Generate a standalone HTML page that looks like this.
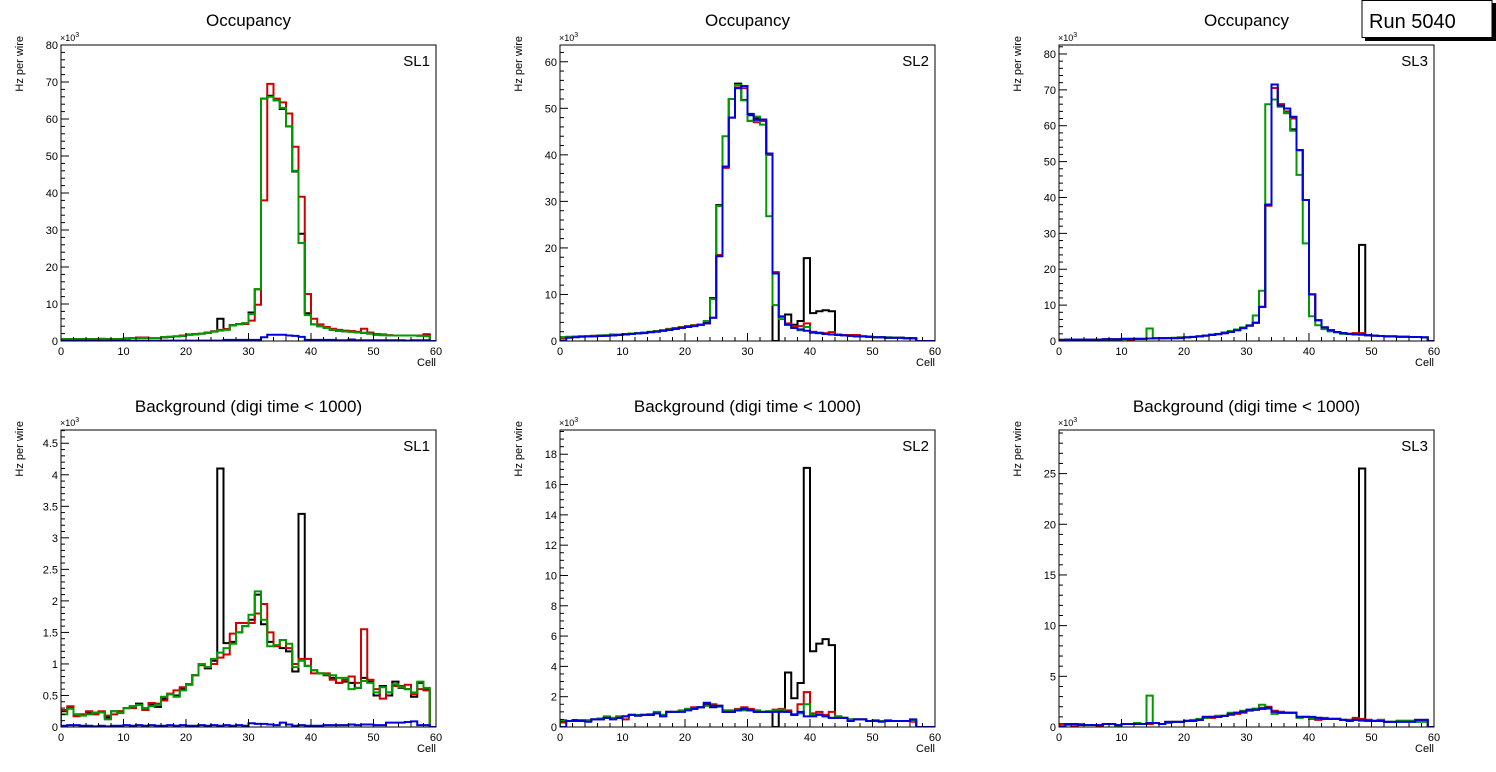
<!DOCTYPE html>
<html><head><meta charset="utf-8"><style>
body{margin:0;background:#fff;}
svg{display:block;font-family:"Liberation Sans",sans-serif;}
</style></head><body>
<svg id="c" width="1496" height="772" viewBox="0 0 1496 772">
<g>
<rect x="1365" y="3" width="131" height="38" fill="#000"/>
<rect x="1362" y="0.5" width="130" height="37" fill="#fff" stroke="#000" stroke-width="1"/>
<text x="1369" y="28" font-size="20">Run 5040</text>
</g>
</svg>
<script>
// Cell bins 0..59; values in units of 10^3 Hz per wire
const cells = Array.from({length:60},(_,i)=>i);
const xTicks = [0,10,20,30,40,50,60];

const occSL1_black=[0.5,0.5,0.5,0.5,0.5,0.5,0.5,0.5,0.5,0.5,0.7,0.8,0.9,0.9,0.8,0.8,1.0,1.1,1.2,1.4,1.7,1.8,2.0,2.2,2.6,6.0,3.2,4.3,4.6,4.8,7.7,14,65.5,66.3,65,62.7,58,45.8,29,7.5,4.5,4.0,3.5,3.0,2.7,2.6,2.5,2.3,2.2,2.0,1.7,1.6,1.5,1.5,1.5,1.5,1.5,1.5,1.8,0];
const occSL1_red=[0.5,0.5,0.5,0.5,0.5,0.5,0.6,0.5,0.5,0.5,0.7,0.8,0.9,0.9,0.8,0.8,1.0,1.1,1.3,1.5,1.8,1.9,2.0,2.3,2.6,3.0,3.2,4.2,4.6,4.6,5.5,9.8,38,69.5,65.5,64.5,61.5,52.5,39,12.7,6,4.5,3.8,3.3,3.0,2.8,2.7,2.5,3.3,2.3,1.9,1.8,1.6,1.5,1.5,1.5,1.5,1.5,1.6,0];
const occSL1_green=[0.5,0.5,0.5,0.5,0.5,0.5,0.5,0.5,0.5,0.5,0.7,0.8,0.8,0.8,0.8,0.8,1.0,1.1,1.2,1.4,1.7,1.8,2.0,2.2,2.5,2.8,3.0,4.2,4.5,4.8,7.3,14,65.5,66,65,63,58,46,26.5,7,4.5,4.0,3.5,3.0,2.7,2.6,2.5,2.3,2.2,2.0,1.7,1.6,1.5,1.5,1.5,1.5,1.5,1.4,1.3,0];
const occSL1_blue=[0.1,0.1,0.1,0.1,0.1,0.1,0.1,0.1,0.1,0.1,0.1,0.1,0.1,0.1,0.1,0.1,0.1,0.1,0.1,0.1,0.1,0.1,0.1,0.1,0.1,0.1,0.3,0.3,0.3,0.3,0.3,0.3,1.0,1.7,1.7,1.7,1.5,1.4,1.1,0.3,0.3,0.3,0.3,0.3,0.2,0.2,0.4,0.2,0.2,0.2,0.2,0.2,0.2,0.2,0.2,0.1,0.2,0.2,0.2,0];

const bkgSL1_black=[0.25,0.3,0.2,0.2,0.22,0.22,0.24,0.15,0.25,0.25,0.3,0.33,0.37,0.3,0.35,0.32,0.45,0.52,0.5,0.6,0.68,0.82,1.0,0.93,1.05,4.1,1.33,1.35,1.5,1.6,1.7,2.1,1.63,1.35,1.3,1.25,1.2,0.88,3.38,0.97,0.9,0.85,0.82,0.78,0.7,0.72,0.7,0.62,0.78,0.72,0.5,0.65,0.5,0.72,0.62,0.6,0.48,0.7,0.6,0];
const bkgSL1_red=[0.27,0.33,0.17,0.2,0.25,0.2,0.25,0.18,0.2,0.25,0.3,0.3,0.35,0.27,0.38,0.37,0.42,0.53,0.58,0.63,0.67,0.82,0.98,0.95,1.0,1.1,1.15,1.48,1.65,1.65,1.65,1.8,1.95,1.5,1.28,1.38,1.25,1.0,1.08,1.08,0.85,0.85,0.85,0.75,0.7,0.75,0.8,0.7,1.55,0.75,0.6,0.45,0.55,0.65,0.65,0.67,0.52,0.6,0.58,0];
const bkgSL1_green=[0.2,0.29,0.2,0.18,0.2,0.23,0.23,0.12,0.25,0.22,0.3,0.33,0.35,0.3,0.33,0.35,0.48,0.52,0.48,0.58,0.68,0.82,1.0,0.95,1.08,1.18,1.25,1.32,1.5,1.6,1.78,2.15,1.7,1.28,1.3,1.38,1.32,0.95,1.05,0.97,0.9,0.85,0.83,0.82,0.78,0.78,0.6,0.62,0.73,0.7,0.55,0.63,0.55,0.68,0.63,0.6,0.55,0.72,0.62,0];
const bkgSL1_blue=[0.02,0.03,0.03,0.02,0.02,0.01,0.02,0.01,0.02,0.02,0.03,0.02,0.03,0.02,0.03,0.02,0.02,0.03,0.02,0.03,0.02,0.02,0.03,0.02,0.03,0.02,0.03,0.02,0.03,0.02,0.06,0.05,0.05,0.04,0.03,0.07,0.04,0.02,0.03,0.02,0.02,0.02,0.03,0.03,0.03,0.03,0.04,0.03,0.04,0.04,0.03,0.03,0.07,0.07,0.07,0.08,0.09,0.03,0.03,0];

const occSL2_black=[0.8,0.8,0.9,1.0,1.0,1.1,1.1,1.2,1.2,1.3,1.4,1.5,1.7,1.8,1.9,2.1,2.2,2.4,2.6,2.9,3.2,3.3,3.5,4.0,9.2,29.2,37.5,52,55.3,51.8,48.5,47.8,47.3,40.3,0,5.3,5.7,3.5,4.3,17.8,6.0,6.4,6.6,6.4,1.4,1.3,1.2,1.1,1.0,0.9,0.8,0.8,0.7,0.7,0.7,0.6,0.6,0,0,0];
const occSL2_red=[0.5,0.8,0.9,1.0,1.0,1.1,1.1,1.2,1.4,1.4,1.5,1.6,1.7,1.8,1.9,2.1,2.3,2.6,2.8,3.0,3.2,3.4,3.5,3.8,5.0,18.5,37.2,48,54.5,54.3,47.3,47,47.3,40,14.8,5.3,3.8,3.2,3.2,3.8,2.0,1.8,1.7,1.9,1.4,1.3,1.3,1.3,1.0,0.9,0.8,0.8,0.7,0.7,0.7,0.6,0.6,0,0,0];
const occSL2_green=[0.8,0.9,0.9,1.0,1.0,1.1,1.2,1.2,1.3,1.4,1.4,1.6,1.7,1.8,2.0,2.1,2.3,2.5,2.7,2.9,3.1,3.3,3.5,4.3,9.0,29,44,52,55,51.7,47.3,48.2,46.5,26.8,7.7,4.7,3.5,2.8,2.3,3.0,1.8,1.7,1.5,1.4,1.3,1.2,1.1,1.0,1.0,0.9,0.8,0.8,0.8,0.7,0.7,0.6,0.6,0,0,0];
const occSL2_blue=[0,0.7,0.8,0.9,1.0,1.0,1.1,1.1,1.2,1.3,1.4,1.5,1.6,1.7,1.9,2.0,2.2,2.4,2.6,2.8,3.0,3.2,3.5,3.8,5.0,18.2,37.5,48,54.3,54.8,48.8,47.5,47.6,40.3,14.5,5.2,3.5,2.8,2.5,2.2,1.8,1.7,1.5,1.4,1.3,1.2,1.1,1.0,1.0,0.9,0.8,0.8,0.7,0.7,0.7,0.6,0.6,0,0,0];

const bkgSL2_black=[0.4,0.4,0.45,0.45,0.4,0.5,0.55,0.6,0.55,0.6,0.7,0.8,0.75,0.8,0.8,0.9,0.75,1.0,1.0,1.05,1.15,1.25,1.3,1.5,1.3,1.35,1.0,1.0,1.1,1.2,1.1,1.0,1.0,1.0,0,1.1,3.6,1.9,2.9,17.1,5.0,5.5,5.8,5.4,0.7,0.6,0.5,0.5,0.5,0.4,0.4,0.4,0.4,0.4,0.4,0.4,0.4,0,0,0];
const bkgSL2_red=[0.3,0.4,0.4,0.4,0.4,0.5,0.5,0.6,0.6,0.7,0.5,0.8,0.75,0.8,0.8,0.9,0.8,1.0,1.0,1.05,1.2,1.3,1.3,1.4,1.5,1.4,1.1,1.1,1.2,1.3,1.2,1.1,1.0,1.0,1.15,1.2,1.1,0.8,1.5,2.3,0.9,1.0,0.8,1.0,0.6,0.6,0.5,0.5,0.5,0.4,0.4,0.4,0.4,0.4,0.4,0.4,0.35,0,0,0];
const bkgSL2_green=[0.45,0.4,0.4,0.45,0.45,0.5,0.55,0.7,0.6,0.65,0.7,0.8,0.8,0.8,0.85,1.0,0.8,1.0,1.0,1.1,1.2,1.2,1.3,1.4,1.4,1.4,1.1,1.05,1.15,1.1,1.1,1.05,1.0,1.05,1.1,1.15,1.0,0.85,0.9,1.5,0.8,0.85,0.7,0.6,0.7,0.6,0.5,0.5,0.5,0.4,0.45,0.4,0.45,0.4,0.4,0.4,0.4,0,0,0];
const bkgSL2_blue=[0,0.4,0.4,0.4,0.35,0.5,0.5,0.6,0.5,0.6,0.7,0.8,0.75,0.8,0.8,0.9,0.7,1.0,1.0,1.0,1.1,1.2,1.3,1.6,1.4,1.4,1.0,1.0,1.1,1.2,1.1,1.0,1.0,1.0,1.0,1.0,1.0,0.8,1.0,0.7,0.7,0.8,0.7,0.6,0.6,0.6,0.4,0.5,0.5,0.4,0.4,0.35,0.4,0.4,0.4,0.4,0.5,0,0,0];

const occSL3_black=[0.3,0.4,0.4,0.4,0.4,0.4,0.4,0.5,0.5,0.5,0.6,0.6,0.6,0.6,0.7,0.7,0.8,0.8,0.8,1.0,1.0,1.1,1.3,1.5,1.7,1.9,2.2,2.5,3.2,3.6,4.3,5.1,9.5,38,70.5,66,63.5,59,53.2,39.3,13,5.8,3.8,3.0,2.5,2.2,2.0,1.8,26.8,1.6,1.5,1.4,1.3,1.3,1.2,1.2,1.1,1.1,1.0,0];
const occSL3_red=[0.3,0.4,0.2,0.4,0.4,0.4,0.4,0.5,0.5,0.5,0.6,0.2,0.6,0.6,0.7,0.7,0.8,0.8,0.8,0.9,1.0,1.1,1.3,1.5,1.7,1.9,2.2,2.5,3.0,3.6,4.3,5.1,9.5,37.7,70.5,66,64,62,53.2,39.3,13,5.8,3.8,3.0,2.5,2.2,2.0,2.2,2.2,1.6,1.5,1.4,1.3,1.3,1.2,1.2,1.1,1.1,1.0,0];
const occSL3_green=[0.3,0.4,0.4,0.4,0.4,0.4,0.4,0.4,0.5,0.5,0.5,0.6,0.6,0.6,3.5,0.7,0.7,0.8,0.9,0.9,1.0,1.2,1.3,1.5,1.8,2.0,2.4,2.8,3.2,3.8,4.4,7.1,14,66,67.3,65.3,63.5,58.6,46.3,27.2,6.9,4.4,3.3,2.7,2.4,2.0,1.9,1.8,1.7,1.6,1.5,1.4,1.3,1.3,1.2,1.1,1.1,1.1,1.0,0];
const occSL3_blue=[0.3,0.4,0.4,0.4,0.4,0.4,0.4,0.5,0.5,0.5,0.6,0.6,0.6,0.6,0.7,0.8,0.8,0.8,0.8,0.8,1.0,1.1,1.3,1.5,1.7,1.9,2.2,2.5,3.0,3.6,4.3,5.1,9.5,38,71.5,65.6,64.8,62.5,53.2,39.3,13,5.8,3.8,3.0,2.5,2.2,2.0,1.8,1.8,1.6,1.5,1.4,1.3,1.3,1.2,1.2,1.1,1.1,1.0,0];

const bkgSL3_black=[0.2,0.3,0.3,0.3,0.2,0.2,0.2,0.3,0.3,0.2,0.3,0.3,0.3,0.3,0.4,0.4,0.3,0.5,0.5,0.5,0.6,0.6,0.7,1.0,1.0,1.1,1.1,1.3,1.4,1.5,1.7,1.8,1.8,1.9,1.5,1.4,1.4,1.4,1.0,1.0,0.9,0.9,0.8,0.8,0.8,0.7,0.7,0.8,25.5,0.7,0.6,0.6,0.5,0.5,0.6,0.6,0.6,0.7,0.7,0];
const bkgSL3_red=[0.3,0.2,0.1,0.3,0.2,0.2,0.1,0.3,0.3,0.2,0.3,0.3,0.3,0.3,0.3,0.4,0.3,0.4,0.5,0.5,0.6,0.6,0.7,0.9,0.9,1.0,1.1,1.2,1.3,1.4,1.6,1.7,1.9,2.0,1.6,1.5,1.4,1.4,1.0,1.0,0.8,0.7,0.9,0.8,0.8,0.7,0.7,0.9,0.8,0.7,0.6,0.7,0.5,0.5,0.6,0.6,0.6,0.6,0.6,0];
const bkgSL3_green=[0.1,0.2,0.2,0.3,0.2,0.2,0.2,0.3,0.3,0.1,0.3,0.3,0.4,0.3,3.1,0.4,0.3,0.4,0.5,0.5,0.6,0.7,0.8,0.9,1.0,1.1,1.1,1.4,1.4,1.6,1.7,1.8,2.2,1.8,1.3,1.4,1.4,1.4,0.9,1.0,0.9,0.9,0.8,0.8,0.8,0.7,0.6,0.7,0.6,0.6,0.6,0.7,0.5,0.5,0.6,0.6,0.6,0.5,0.5,0];
const bkgSL3_blue=[0,0.3,0.3,0.2,0.2,0.2,0.2,0.3,0.3,0.2,0.3,0.3,0.3,0.3,0.4,0.4,0.3,0.5,0.5,0.5,0.6,0.6,0.7,1.0,1.0,1.0,1.1,1.3,1.4,1.5,1.7,1.7,1.8,1.9,1.5,1.4,1.4,1.4,1.0,1.0,1.0,0.9,0.8,0.8,0.8,0.7,0.6,0.7,0.7,0.6,0.6,0.6,0.5,0.5,0.5,0.5,0.5,0.7,0.7,0];

const panelTitles=["Occupancy","Background (digi time < 1000)"];
const slLabels=["SL1","SL2","SL3"];
const yMaxes=[[80,4.71],[63.6,19.6],[82.5,29.3]];
const yMajors=[[10,0.5],[10,2],[10,5]];
const yMinors=[[2,0.1],[2,0.5],[2,1]];
const colors=["#000000","#d00000","#009a00","#0000e0"];
const seriesNames=["black","red","green","blue"];
const data=[[[occSL1_black,occSL1_red,occSL1_green,occSL1_blue],[bkgSL1_black,bkgSL1_red,bkgSL1_green,bkgSL1_blue]],
[[occSL2_black,occSL2_red,occSL2_green,occSL2_blue],[bkgSL2_black,bkgSL2_red,bkgSL2_green,bkgSL2_blue]],
[[occSL3_black,occSL3_red,occSL3_green,occSL3_blue],[bkgSL3_black,bkgSL3_red,bkgSL3_green,bkgSL3_blue]]];

const NS="http://www.w3.org/2000/svg";
const svg=document.getElementById('c');
function mk(tag,attrs,parent){const e=document.createElementNS(NS,tag);for(const k in attrs)e.setAttribute(k,attrs[k]);(parent||svg).appendChild(e);return e;}
const lefts=[61,560,1059], W=375;
const tops=[45,430], bots=[341,727];
const titleY=[26,412];
function fmt(v){return (Math.round(v*100)/100).toString();}

for(let c=0;c<3;c++){for(let r=0;r<2;r++){
  const L=lefts[c],T=tops[r],B=bots[r],ym=yMaxes[c][r];
  const X=v=>L+v/60*W, Y=v=>B-v/ym*(B-T);
  const g=mk('g',{});
  
  
  const t=mk('text',{x:L+W/2,y:titleY[r],'font-size':17,'text-anchor':'middle'},g);t.textContent=panelTitles[r];
  
  
  const clipId='cl'+c+r;
  const cp=mk('clipPath',{id:clipId},g);mk('rect',{x:L,y:T,width:W,height:B-T},cp);
  const hg=mk('g',{'clip-path':'url(#'+clipId+')'},g);
  data[c][r].forEach((arr,si)=>{
    let d='M'+X(0)+','+Y(0);
    cells.forEach(i=>{d+='L'+X(i)+','+Y(arr[i])+'L'+X(i+1)+','+Y(arr[i]);});
    d+='L'+X(60)+','+Y(0);
    const p=mk('path',{d:d,fill:'none',stroke:colors[si],'stroke-width':2,'stroke-linejoin':'miter'},hg);
    
    
  });
  const fr=mk('rect',{x:L,y:T,width:W,height:B-T,fill:'none',stroke:'#000','stroke-width':1},g);
  
  
  // x ticks
  for(let v=0;v<=60;v+=2){const maj=v%10==0;mk('line',{x1:X(v),x2:X(v),y1:B,y2:B-(maj?8:4),stroke:'#000','stroke-width':1},g);}
  xTicks.forEach(v=>{const tl=mk('text',{x:X(v),y:B+14,'font-size':11,'text-anchor':'middle'},g);tl.textContent=v;
    
    });
  const xl=mk('text',{x:L+W,y:B+25,'font-size':11,'text-anchor':'end'},g);xl.textContent='Cell';
  
  
  // y ticks
  const mn=yMinors[c][r],mj=yMajors[c][r];
  for(let k=0;k*mn<=ym+1e-9;k++){const v=k*mn;const maj=Math.abs(v/mj-Math.round(v/mj))<1e-6;
    mk('line',{x1:L,x2:L+(maj?8:4),y1:Y(v),y2:Y(v),stroke:'#000','stroke-width':1},g);
    if(maj){const yl=mk('text',{x:L-3,y:Y(v)+4,'font-size':11,'text-anchor':'end'},g);yl.textContent=fmt(v);
      
      }}
  const ex=mk('text',{x:L-1,y:T-4,'font-size':9},g);ex.innerHTML='×10<tspan dy="-4" font-size="7">3</tspan>';
  
  
  const yt=mk('text',{x:0,y:0,'font-size':11,'text-anchor':'end',transform:'translate('+(L-38)+','+(T-9)+') rotate(-90)'},g);yt.textContent='Hz per wire';
  
  
  const sl=mk('text',{x:L+W-6,y:T+21,'font-size':15,'text-anchor':'end'},g);sl.textContent=slLabels[c];
  
  
}}
</script>
</body></html>
